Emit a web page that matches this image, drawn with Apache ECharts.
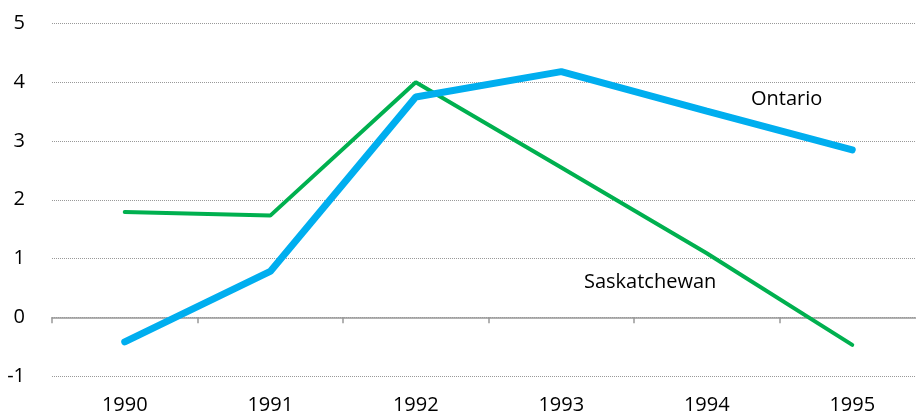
<!DOCTYPE html>
<html>
<head>
    <meta charset="utf-8">
    <title>Ontario vs Saskatchewan</title>
    <script src="https://cdn.jsdelivr.net/npm/echarts@6/dist/echarts.min.js"></script>
    <style>
        *{ padding: 0; margin: 0; }
        html, body{ width: 100%; height: 100%; background: #fff; overflow: hidden; }
        /* the axis runs a bit past the right edge in the original */
        #chart{ width: 925px; height: 415px; }
    </style>
</head>
<body>
<div id="chart"></div>
<script>
    // data
    var years = ['1990', '1991', '1992', '1993', '1994', '1995'];
    var ontario = [-0.42, 0.78, 3.75, 4.18, 3.51, 2.85];
    var saskatchewan = [1.79, 1.73, 4.0, 2.55, 1.09, -0.47];

    var font = '"Open Sans", "Noto Sans", sans-serif';
    var myChart = echarts.init(document.getElementById('chart'));

    myChart.setOption({
        animation: false,
        grid: { left: 52, right: 0, top: 23.5, bottom: 39 },
        xAxis: [{
            type: 'category',
            data: years,
            position: 'bottom',
            axisLine: { show: false, onZero: false },
            axisTick: { show: false },
            axisLabel: { color: '#000', fontSize: 20, fontFamily: font, margin: 19 }
        }, {
            type: 'category',
            data: years,
            position: 'bottom',
            axisLine: { show: true, onZero: true, lineStyle: { color: '#999', width: 1.5 } },
            axisTick: { show: true, length: 6, lineStyle: { color: '#999', width: 1.5 } },
            axisLabel: { show: false }
        }],
        yAxis: {
            type: 'value',
            min: -1,
            max: 5,
            interval: 1,
            axisLine: { show: false },
            axisTick: { show: false },
            axisLabel: { color: '#000', fontSize: 20, fontFamily: font, margin: 27 },
            splitLine: { lineStyle: { color: '#999', type: [1, 1], width: 1 } }
        },
        series: [{
            name: 'Saskatchewan',
            type: 'line',
            data: saskatchewan,
            symbol: 'none',
            lineStyle: { color: '#00b04f', width: 4, cap: 'round' },
            z: 2
        }, {
            name: 'Ontario',
            type: 'line',
            data: ontario,
            symbol: 'none',
            lineStyle: { color: '#00aeef', width: 7, cap: 'round' },
            z: 3
        }],
        graphic: [
            { type: 'text', left: 751, top: 89, style: { text: 'Ontario', fontSize: 20, fontFamily: font, fill: '#000' } },
            { type: 'text', left: 584, top: 272, style: { text: 'Saskatchewan', fontSize: 20, fontFamily: font, fill: '#000' } }
        ]
    });
</script>
</body>
</html>
